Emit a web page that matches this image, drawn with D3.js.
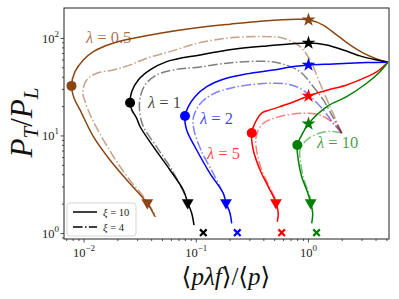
<!DOCTYPE html>
<html>
<head>
<meta charset="utf-8">
<script src="https://cdn.jsdelivr.net/npm/d3@7"></script>
<style>
  body { margin: 0; background: #fff; }
  svg { display: block; }
  text { font-family: "Liberation Serif", "DejaVu Serif", serif; }
</style>
</head>
<body>
<svg id="chart" width="399" height="299"></svg>
<script>
var width = 399;
var height = 299;

// lambda values, one solid curve (xi = 10) and one dash-dot curve (xi = 4) each
var lambdas = ["0.5", "1", "2", "5", "10"];
var colors = ["#8b4513", "#000000", "#0000ff", "#ff0000", "#008000"];

// solid curves, xi = 10: [x, y]
var solid05 = [[5.1, 57], [4.05, 61.6], [3.06, 71], [2.34, 85.8], [1.78, 108.6], [1.35, 137], [1.0, 155],
  [0.785, 157], [0.396, 151], [0.2, 140], [0.0935, 127], [0.0475, 113], [0.0275, 100.5], [0.017, 87.2],
  [0.0121, 73.2], [0.00984, 60.2], [0.0083, 45.6], [0.00772, 32.6], [0.00813, 24.5], [0.0092, 18.5],
  [0.0121, 9.84], [0.017, 5.67], [0.024, 3.54], [0.0366, 2.04], [0.0428, 1.49]];
var solid1 = [[5.1, 57], [3.78, 61.2], [2.88, 66.2], [2.04, 76.2], [1.45, 85.8], [1.0, 89.9], [0.424, 83.8],
  [0.214, 77.5], [0.108, 67.7], [0.0545, 57.8], [0.0387, 47.5], [0.0304, 37.5], [0.0266, 28.5],
  [0.0257, 21.9], [0.0266, 18.5], [0.0294, 15.2], [0.0315, 12.5], [0.0414, 7.77], [0.0583, 4.48],
  [0.0766, 2.79], [0.0838, 2.07], [0.091, 1.61], [0.0954, 1.22]];
var solid2 = [[5.1, 57], [3.3, 56.5], [1.664, 54.8], [1.0, 53.5], [0.732, 51.4], [0.486, 47.5], [0.281, 43.3],
  [0.174, 38.1], [0.124, 32], [0.0974, 25.3], [0.0849, 20], [0.0793, 16], [0.0821, 11.5], [0.1008, 7.18],
  [0.1324, 4.14], [0.174, 2.58], [0.184, 2.07], [0.1998, 1.61], [0.2068, 1.27]];
var solid5 = [[5.1, 57], [4.05, 45.3], [3.3, 40.3], [2.19, 33.3], [1.49, 29.6], [1.0, 25.7], [0.684, 21.6],
  [0.454, 18.5], [0.385, 17.2], [0.345, 14.6], [0.312, 10.7], [0.322, 7.18], [0.37, 4.48], [0.438, 3.02],
  [0.513, 2.07], [0.538, 1.61], [0.527, 1.32]];
var solid10 = [[5.1, 57], [4.34, 45.6], [3.3, 34.7], [2.19, 25.3], [1.49, 20.3], [1.0, 13.3], [0.87, 10.2],
  [0.795, 8.09], [0.811, 5.67], [0.87, 3.82], [0.964, 2.79], [1.046, 2.07], [1.09, 1.61], [1.068, 1.27]];

// dash-dot curves, xi = 4
var dash05 = [[1.98, 10.7], [1.555, 20], [1.266, 34.7], [1.03, 60.2], [0.84, 82.4], [0.596, 100.5],
  [0.424, 104.3], [0.2137, 102], [0.108, 90.6], [0.0583, 73.2], [0.0361, 62.6], [0.0257, 53.5],
  [0.0182, 47.5], [0.01295, 44], [0.01055, 37.5], [0.00972, 28.5], [0.0102, 22.5], [0.0117, 15.2],
  [0.01386, 10.5], [0.0181, 6.24], [0.0247, 3.71], [0.0356, 2.21], [0.0437, 1.48]];
var dash1 = [[1.98, 10.7], [1.664, 15.3], [1.355, 23.4], [1.104, 32], [0.84, 45.6], [0.596, 54.4],
  [0.424, 58.1], [0.214, 56.7], [0.108, 51], [0.0624, 47.5], [0.0444, 42.2], [0.0349, 33.3],
  [0.0315, 24.4], [0.0312, 18.5], [0.0335, 12.7], [0.0437, 7.9], [0.0607, 4.48], [0.0793, 2.48]];
var dash2 = [[1.98, 10.7], [1.664, 13.5], [1.355, 18.5], [1.03, 25.7], [0.84, 30.8], [0.639, 34.1],
  [0.396, 34.5], [0.2137, 31.4], [0.1417, 27], [0.108, 21.3], [0.094, 15.3], [0.0954, 11.5],
  [0.11, 7.18], [0.141, 4.17], [0.1766, 2.48]];
var dash5 = [[1.98, 10.7], [1.664, 13.5], [1.266, 16.4], [0.899, 17.1], [0.557, 15.8], [0.396, 13.5],
  [0.348, 10.7], [0.34, 8.09], [0.377, 4.7], [0.454, 2.93], [0.513, 2.21]];
var dash10 = [[1.98, 10.7], [1.664, 11.1], [1.266, 10.7], [0.964, 9.1], [0.84, 7.18], [0.849, 5.41],
  [0.903, 3.71], [0.99, 2.73], [1.05, 2.21]];

var solids = [solid05, solid1, solid2, solid5, solid10];
var dashes = [dash05, dash1, dash2, dash5, dash10];

// markers
var circleX = [0.00772, 0.0257, 0.0793, 0.312, 0.795];
var circleY = [32.6, 21.9, 16.0, 10.7, 8.09];
var starY = [155, 89.9, 53.5, 25.7, 13.3];          // all at x = 1
var triangleX = [0.0366, 0.0838, 0.184, 0.513, 1.046]; // all at y = 2.07
var crossX = [null, 0.1155, 0.232, 0.577, 1.18];       // all at y = 1.02

var xTicks = [0.01, 0.1, 1];
var xTickExp = ["\u22122", "\u22121", "0"];
var yTicks = [1, 10, 100];
var yTickExp = ["0", "1", "2"];

var labelPos = [[86, 43], [148, 108], [200, 124], [207, 159], [317, 148]];

var svg = d3.select("#chart");
var mLeft = 64, mRight = 389, mTop = 8, mBottom = 239;

var x = d3.scaleLog().domain([0.00662, 5.22]).range([mLeft, mRight]);
var y = d3.scaleLog().domain([0.878, 205]).range([mBottom, mTop]);

var line = d3.line()
  .x(function(d) { return x(d[0]); })
  .y(function(d) { return y(d[1]); })
  .curve(d3.curveCatmullRom.alpha(0.5));

var plot = svg.append("g");

// dash-dot curves first
plot.selectAll("path.dash").data(dashes).enter().append("path")
  .attr("class", "dash")
  .attr("d", line)
  .attr("fill", "none")
  .attr("stroke", function(d, i) { return colors[i]; })
  .attr("stroke-opacity", 0.5)
  .attr("stroke-width", 1.5)
  .attr("stroke-dasharray", "9.6,2.4,1.5,2.4");

plot.selectAll("path.solid").data(solids).enter().append("path")
  .attr("class", "solid")
  .attr("d", line)
  .attr("fill", "none")
  .attr("stroke", function(d, i) { return colors[i]; })
  .attr("stroke-width", 1.5);

// markers
plot.selectAll("circle.mk").data(circleX).enter().append("circle")
  .attr("cx", function(d) { return x(d); })
  .attr("cy", function(d, i) { return y(circleY[i]); })
  .attr("r", 5)
  .attr("fill", function(d, i) { return colors[i]; });

var star = d3.symbol().type(d3.symbolStar).size(60);
plot.selectAll("path.star").data(starY).enter().append("path")
  .attr("d", star)
  .attr("transform", function(d) { return "translate(" + x(1) + "," + y(d) + ")"; })
  .attr("fill", function(d, i) { return colors[i]; });

var tri = d3.symbol().type(d3.symbolTriangle).size(60);
plot.selectAll("path.tri").data(triangleX).enter().append("path")
  .attr("d", tri)
  .attr("transform", function(d) { return "translate(" + x(d) + "," + y(2.07) + ") rotate(180)"; })
  .attr("fill", function(d, i) { return colors[i]; });

var cross = d3.symbol().type(d3.symbolX).size(30);
plot.selectAll("path.cross").data(crossX).enter().append("path")
  .attr("d", cross)
  .attr("display", function(d) { return d === null ? "none" : null; })
  .attr("transform", function(d) { return "translate(" + x(d === null ? 1 : d) + "," + y(1.02) + ")"; })
  .attr("stroke", function(d, i) { return colors[i]; })
  .attr("fill", "none")
  .attr("stroke-width", 2.2);

// lambda labels
lambdas.forEach(function(l, i) {
  var t = plot.append("text")
    .attr("x", labelPos[i][0])
    .attr("y", labelPos[i][1])
    .attr("font-size", 16.5)
    .attr("fill", colors[i])
    .attr("fill-opacity", 0.75);
  t.append("tspan").attr("font-style", "italic").text("\u03bb");
  t.append("tspan").text(" = " + l);
});

// frame
svg.append("rect")
  .attr("x", mLeft).attr("y", mTop)
  .attr("width", mRight - mLeft).attr("height", mBottom - mTop)
  .attr("fill", "none").attr("stroke", "#222").attr("stroke-width", 1);

// ticks
var g = svg.append("g").attr("stroke", "#222").attr("stroke-width", 0.8);
var xMinor = [], yMinor = [];
[0.001, 0.01, 0.1, 1, 10].forEach(function(dec) {
  for (var k = 2; k <= 9; k++) {
    var v = dec * k;
    if (v > 0.00662 && v < 5.22) xMinor.push(v);
    if (v > 0.878 && v < 205) yMinor.push(v);
  }
});
g.selectAll("line.xmaj").data(xTicks).enter().append("line")
  .attr("x1", x).attr("x2", x).attr("y1", mBottom).attr("y2", mBottom + 3.5);
g.selectAll("line.xmin").data(xMinor).enter().append("line")
  .attr("x1", x).attr("x2", x).attr("y1", mBottom).attr("y2", mBottom + 2);
g.selectAll("line.ymaj").data(yTicks).enter().append("line")
  .attr("y1", y).attr("y2", y).attr("x1", mLeft).attr("x2", mLeft - 3.5);
g.selectAll("line.ymin").data(yMinor).enter().append("line")
  .attr("y1", y).attr("y2", y).attr("x1", mLeft).attr("x2", mLeft - 2);

xTicks.forEach(function(v, i) {
  var t = svg.append("text")
    .attr("x", x(v)).attr("y", mBottom + 18)
    .attr("text-anchor", "middle")
    .attr("font-size", 12.5).attr("fill", "#222");
  t.append("tspan").text("10");
  t.append("tspan").attr("dy", -6).attr("font-size", 9).text(xTickExp[i]);
});
yTicks.forEach(function(v, i) {
  var t = svg.append("text")
    .attr("x", mLeft - 5).attr("y", y(v) + 4.5)
    .attr("text-anchor", "end")
    .attr("font-size", 12.5).attr("fill", "#222");
  t.append("tspan").text("10");
  t.append("tspan").attr("dy", -6).attr("font-size", 9).text(yTickExp[i]);
});

// axis labels
var yl = svg.append("text")
  .attr("transform", "translate(32,122.5) rotate(-90)")
  .attr("text-anchor", "middle")
  .attr("font-size", 31).attr("fill", "#111");
yl.append("tspan").attr("font-style", "italic").text("P");
yl.append("tspan").attr("dy", 6).attr("font-size", 21).attr("font-style", "italic").text("T");
yl.append("tspan").attr("dy", -6).text("/");
yl.append("tspan").attr("font-style", "italic").text("P");
yl.append("tspan").attr("dy", 6).attr("font-size", 21).attr("font-style", "italic").text("L");

var xl = svg.append("text")
  .attr("x", 226).attr("y", 285)
  .attr("text-anchor", "middle")
  .attr("font-size", 25).attr("fill", "#111");
xl.append("tspan").text("\u27e8");
xl.append("tspan").attr("font-style", "italic").text("p\u03bbf");
xl.append("tspan").text("\u27e9/\u27e8");
xl.append("tspan").attr("font-style", "italic").text("p");
xl.append("tspan").text("\u27e9");

// legend
var lg = svg.append("g");
lg.append("rect")
  .attr("x", 67).attr("y", 203).attr("width", 69).attr("height", 33).attr("rx", 3)
  .attr("fill", "#fff").attr("fill-opacity", 0.8)
  .attr("stroke", "#d6d6d6").attr("stroke-width", 1);
var legendItems = [{label: "10", dash: null, yy: 212}, {label: "4", dash: "9.6,2.4,1.5,2.4", yy: 227}];
legendItems.forEach(function(it) {
  lg.append("line")
    .attr("x1", 73).attr("x2", 97).attr("y1", it.yy).attr("y2", it.yy)
    .attr("stroke", "#000").attr("stroke-width", 1.5)
    .attr("stroke-dasharray", it.dash);
  var t = lg.append("text").attr("x", 103).attr("y", it.yy + 3.5)
    .attr("font-size", 10.5).attr("fill", "#222");
  t.append("tspan").attr("font-style", "italic").text("\u03be");
  t.append("tspan").text(" = " + it.label);
});
</script>
</body>
</html>
